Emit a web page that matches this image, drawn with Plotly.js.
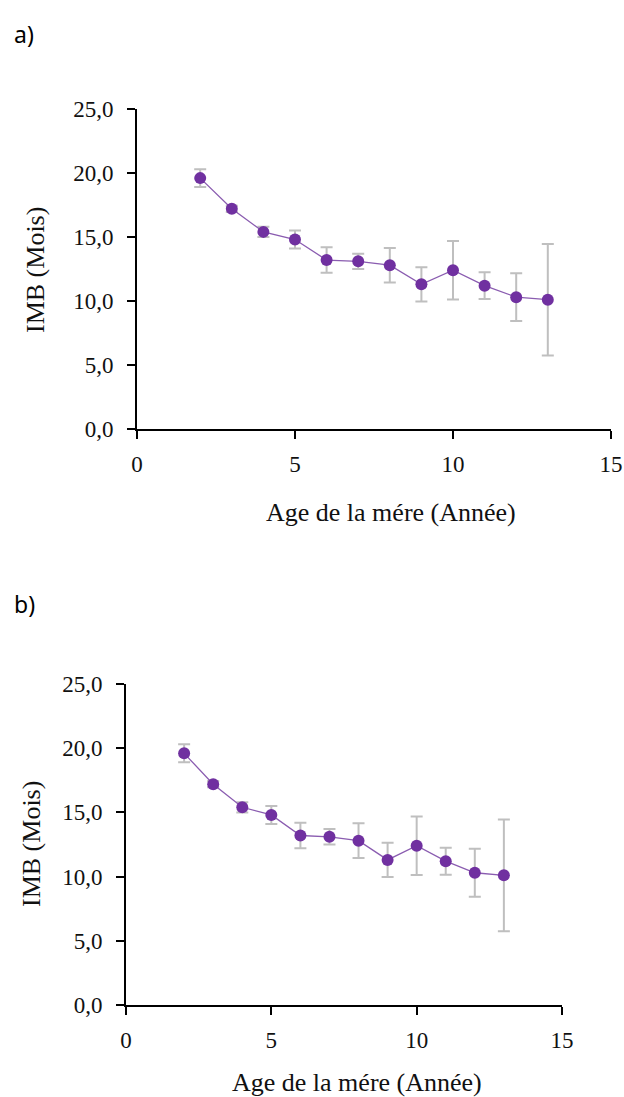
<!DOCTYPE html>
<html>
<head>
<meta charset="utf-8">
<script src="https://cdn.plot.ly/plotly-3.0.1.min.js"></script>
<style>
html,body{margin:0;padding:0;background:#fff;}
#chart{width:624px;height:1097px;}
</style>
</head>
<body>
<div id="chart"></div>
<script>
// Data (both panels show the same series)
const ageMere = [2, 3, 4, 5, 6, 7, 8, 9, 10, 11, 12, 13];
const imbMois = [19.6, 17.2, 15.4, 14.8, 13.2, 13.1, 12.8, 11.3, 12.4, 11.2, 10.3, 10.1];
const imbErr  = [0.7, 0.25, 0.4, 0.7, 1.0, 0.6, 1.35, 1.33, 2.28, 1.05, 1.86, 4.35];
const yTickVals = [0, 5, 10, 15, 20, 25];
const xTickVals = [0, 5, 10, 15];
const panelLabels = ["a)", "b)"];
const xTitle = "Age de la mére (Année)";
const yTitle = "IMB (Mois)";

const W = 624, H = 1097;
const px = v => v / W;
const py = v => 1 - v / H;

function trace(xa, ya) {
  return {
    x: ageMere, y: imbMois, xaxis: xa, yaxis: ya,
    type: 'scatter', mode: 'lines+markers',
    line: {color: '#8a5cb0', width: 1.3},
    marker: {color: '#7030A0', size: 12},
    error_y: {type: 'data', array: imbErr, visible: true, color: '#BFBFBF', thickness: 2, width: 6},
    showlegend: false, hoverinfo: 'skip'
  };
}

const tickFont = {family: 'Liberation Serif, Times New Roman, serif', size: 23, color: '#111'};
const titleFont = {family: 'Liberation Serif, Times New Roman, serif', size: 26, color: '#111'};

function xAxis(domain, anchor) {
  return {
    domain: domain, anchor: anchor, range: [0, 15], tickvals: xTickVals,
    showgrid: false, zeroline: false, showline: true, linecolor: '#000', linewidth: 2,
    ticks: 'outside', ticklen: 8, tickwidth: 2, tickcolor: '#000',
    tickfont: tickFont, ticklabelstandoff: 5, fixedrange: true
  };
}
function yAxis(domain, anchor) {
  return {
    domain: domain, anchor: anchor, range: [0, 25], tickvals: yTickVals, tickformat: '.1f',
    showgrid: false, zeroline: false, showline: true, linecolor: '#000', linewidth: 2,
    ticks: 'outside', ticklen: 8, tickwidth: 2, tickcolor: '#000',
    tickfont: tickFont, ticklabelstandoff: 9, fixedrange: true
  };
}

const layout = {
  width: W, height: H,
  margin: {l: 0, r: 0, t: 0, b: 0},
  paper_bgcolor: '#fff', plot_bgcolor: '#fff',
  separators: ', ',
  xaxis: xAxis([px(137), px(611)], 'y'),
  yaxis: yAxis([py(429), py(109)], 'x'),
  xaxis2: xAxis([px(126), px(562)], 'y2'),
  yaxis2: yAxis([py(1005), py(684)], 'x2'),
  annotations: [
    {text: panelLabels[0], x: px(12), y: py(34), xref: 'paper', yref: 'paper', xanchor: 'left', yanchor: 'middle', showarrow: false,
     font: {family: 'Noto Sans, DejaVu Sans, sans-serif', size: 23, color: '#000'}},
    {text: panelLabels[1], x: px(12), y: py(604), xref: 'paper', yref: 'paper', xanchor: 'left', yanchor: 'middle', showarrow: false,
     font: {family: 'Noto Sans, DejaVu Sans, sans-serif', size: 23, color: '#000'}},
    {text: xTitle, x: px(391), y: py(512), xref: 'paper', yref: 'paper', xanchor: 'center', yanchor: 'middle', showarrow: false, font: titleFont},
    {text: yTitle, x: px(35), y: py(270), xref: 'paper', yref: 'paper', xanchor: 'center', yanchor: 'middle', textangle: -90, showarrow: false, font: titleFont},
    {text: xTitle, x: px(357), y: py(1082), xref: 'paper', yref: 'paper', xanchor: 'center', yanchor: 'middle', showarrow: false, font: titleFont},
    {text: yTitle, x: px(31), y: py(844), xref: 'paper', yref: 'paper', xanchor: 'center', yanchor: 'middle', textangle: -90, showarrow: false, font: titleFont}
  ]
};

Plotly.newPlot('chart', [trace('x', 'y'), trace('x2', 'y2')], layout, {displayModeBar: false, staticPlot: true});
</script>
</body>
</html>
